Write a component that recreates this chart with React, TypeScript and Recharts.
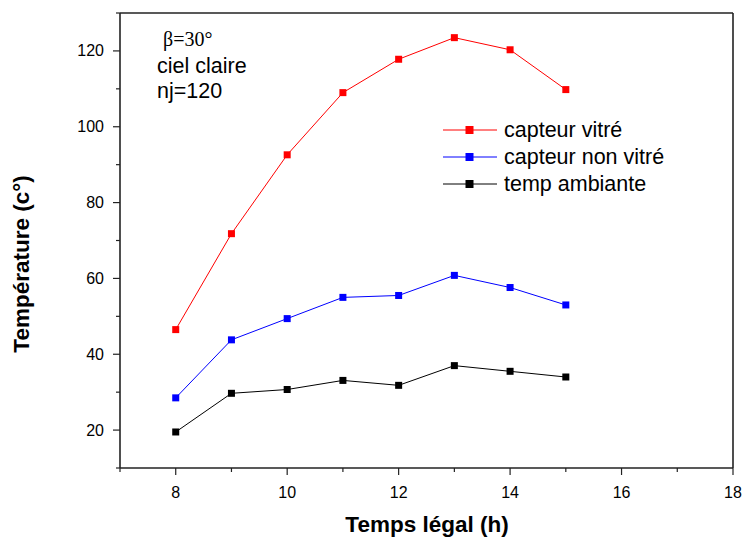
import { LineChart, Line, XAxis, YAxis, ReferenceLine } from "recharts";

const hours = [8, 9, 10, 11, 12, 13, 14, 15];
const capteurVitre = [46.5, 71.8, 92.6, 109, 117.8, 123.5, 120.3, 109.8];
const capteurNonVitre = [28.5, 43.8, 49.4, 55, 55.5, 60.8, 57.6, 53];
const tempAmbiante = [19.5, 29.7, 30.7, 33.1, 31.8, 37, 35.5, 34];

const xTicks = [7, 8, 9, 10, 11, 12, 13, 14, 15, 16, 17, 18];
const xLabels = [8, 10, 12, 14, 16, 18];
const yTicks = [10, 20, 30, 40, 50, 60, 70, 80, 90, 100, 110, 120, 130];
const yLabels = [20, 40, 60, 80, 100, 120];

const series = [
  { key: "vitre", name: "capteur vitré", color: "#ff0000" },
  { key: "nonVitre", name: "capteur non vitré", color: "#0000ff" },
  { key: "ambiante", name: "temp ambiante", color: "#000000" },
];

const data = hours.map((h, i) => ({
  h,
  vitre: capteurVitre[i],
  nonVitre: capteurNonVitre[i],
  ambiante: tempAmbiante[i],
}));

const font = "'Liberation Sans', Arial, sans-serif";
const axisColor = "#222";

function squareDot(color: string) {
  return (props: any) => {
    const { cx, cy, index } = props;
    if (cx == null || cy == null) return null;
    return <rect key={index} x={cx - 3.5} y={cy - 3.5} width={7} height={7} fill={color} />;
  };
}

// major ticks carry a label and a longer mark, minor ones just a short mark
function XTick(props: any) {
  const { x, y, payload } = props;
  const major = xLabels.includes(payload.value);
  return (
    <g>
      <line x1={x} y1={y} x2={x} y2={y + (major ? 7 : 4)} stroke={axisColor} strokeWidth={1.2} />
      {major && (
        <text x={x} y={y + 30} textAnchor="middle" fontSize={16} fontFamily={font} fill="#000">
          {payload.value}
        </text>
      )}
    </g>
  );
}

function YTick(props: any) {
  const { x, y, payload } = props;
  const major = yLabels.includes(payload.value);
  return (
    <g>
      <line x1={x} y1={y} x2={x - (major ? 7 : 4)} y2={y} stroke={axisColor} strokeWidth={1.2} />
      {major && (
        <text x={x - 16} y={y + 5.5} textAnchor="end" fontSize={16} fontFamily={font} fill="#000">
          {payload.value}
        </text>
      )}
    </g>
  );
}

export default function App() {
  return (
    <div style={{ position: "absolute", left: 0, top: 0, width: 743, height: 543, background: "#fff" }}>
      <LineChart width={743} height={543} data={data} margin={{ top: 13, right: 10, bottom: 15, left: 0 }}>
        <XAxis
          dataKey="h"
          type="number"
          domain={[7, 18]}
          ticks={xTicks}
          interval={0}
          height={60}
          tick={<XTick />}
          tickLine={false}
          tickSize={0}
          tickMargin={0}
          axisLine={{ stroke: axisColor, strokeWidth: 1.6 }}
        />
        <YAxis
          type="number"
          domain={[10, 130]}
          ticks={yTicks}
          interval={0}
          width={120}
          tick={<YTick />}
          tickLine={false}
          tickSize={0}
          tickMargin={0}
          axisLine={{ stroke: axisColor, strokeWidth: 1.6 }}
        />
        <ReferenceLine y={130} stroke={axisColor} strokeWidth={1.6} />
        <ReferenceLine x={18} stroke={axisColor} strokeWidth={1.6} />
        {series.map((s) => (
          <Line
            key={s.key}
            dataKey={s.key}
            name={s.name}
            type="linear"
            stroke={s.color}
            strokeWidth={1}
            dot={squareDot(s.color)}
            activeDot={false}
            isAnimationActive={false}
          />
        ))}
      </LineChart>
      <svg width={743} height={543} style={{ position: "absolute", left: 0, top: 0, pointerEvents: "none" }}>
        <text x={427} y={532} textAnchor="middle" fontSize={22.5} fontWeight="bold" fontFamily={font} fill="#000">
          Temps légal (h)
        </text>
        <text
          x={29}
          y={264}
          transform="rotate(-90, 29, 264)"
          textAnchor="middle"
          fontSize={22.5}
          fontWeight="bold"
          fontFamily={font}
          fill="#000"
        >
          Température (c°)
        </text>
        <text x={163} y={46} fontSize={20} fontFamily="'Liberation Serif', 'Times New Roman', serif" fill="#000">
          β=30°
        </text>
        <text x={157} y={73} fontSize={21.5} fontFamily={font} fill="#000">
          ciel claire
        </text>
        <text x={157} y={98} fontSize={21.5} fontFamily={font} fill="#000">
          nj=120
        </text>
        {series.map((s, i) => {
          const cy = 130 + i * 27;
          return (
            <g key={s.key}>
              <line x1={443} y1={cy} x2={497} y2={cy} stroke={s.color} strokeWidth={1} />
              <rect x={465.5} y={cy - 4} width={8} height={8} fill={s.color} />
              <text x={504} y={cy + 7} fontSize={21.5} fontFamily={font} fill="#000">
                {s.name}
              </text>
            </g>
          );
        })}
      </svg>
    </div>
  );
}
